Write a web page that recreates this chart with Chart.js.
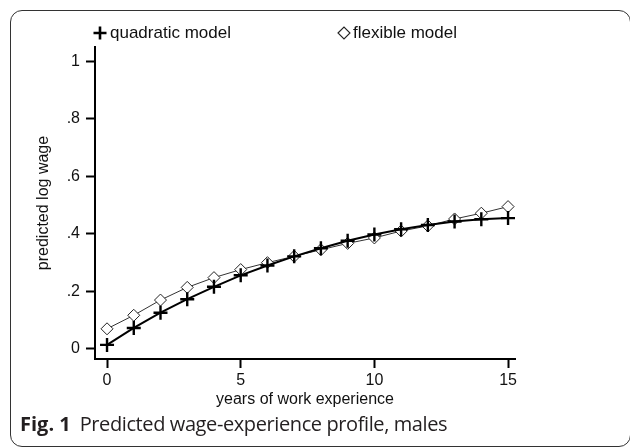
<!DOCTYPE html>
<html>
<head>
<meta charset="utf-8">
<script src="https://cdn.jsdelivr.net/npm/chart.js@4.4.1/dist/chart.umd.min.js"></script>
<style>
  html, body { margin: 0; padding: 0; background: #fff; }
  #wrap { position: relative; width: 630px; height: 448px; overflow: hidden; background: #fff; }
  #frame { position: absolute; left: 10px; top: 10px; width: 621px; height: 437px;
           border: 1.5px solid #333; border-radius: 12px; box-sizing: border-box; }
  #chart { position: absolute; left: 0; top: 0; }
  #caption { position: absolute; left: 20px; top: 410px; font-family: 'Open Sans', 'Noto Sans', sans-serif;
             font-size: 20px; color: #231f20; white-space: nowrap; letter-spacing: -0.4px; }
  #caption b { font-weight: 700; margin-right: 9px; letter-spacing: 0; }
</style>
</head>
<body>
<div id="wrap">
  <div id="frame"></div>
  <canvas id="chart" width="630" height="448"></canvas>
  <div id="caption"><b>Fig. 1</b>Predicted wage-experience profile, males</div>
</div>
<script>
// ---- data ----
const years = [0, 1, 2, 3, 4, 5, 6, 7, 8, 9, 10, 11, 12, 13, 14, 15];
const quadratic = [0.014, 0.073, 0.126, 0.173, 0.216, 0.256, 0.290, 0.322, 0.350, 0.376, 0.398, 0.416, 0.431, 0.443, 0.451, 0.455];
const flexible  = [0.070, 0.117, 0.170, 0.214, 0.248, 0.276, 0.300, 0.322, 0.345, 0.367, 0.386, 0.410, 0.428, 0.452, 0.472, 0.495];
const seriesLabels = ['quadratic model', 'flexible model'];
const xTickValues = [0, 5, 10, 15];
const yTickValues = [0, 0.2, 0.4, 0.6, 0.8, 1];
const yTickLabels = ['0', '.2', '.4', '.6', '.8', '1'];
const xTitle = 'years of work experience';
const yTitle = 'predicted log wage';

Chart.defaults.font.family = "'Liberation Sans', Arial, sans-serif";
Chart.defaults.color = '#111';

// Stata-style legend laid out in two columns above the plot
const stataLegend = {
  id: 'stataLegend',
  afterDraw(chart, args, opts) {
    const ctx = chart.ctx;
    const area = chart.chartArea;
    ctx.save();
    ctx.font = opts.font;
    ctx.textBaseline = 'middle';
    ctx.textAlign = 'left';
    chart.data.datasets.forEach((ds, i) => {
      const cx = area.left + opts.offsets[i];
      const cy = opts.y;
      ctx.strokeStyle = ds.pointBorderColor;
      ctx.fillStyle = ds.pointBackgroundColor;
      ctx.lineWidth = opts.markerWidths[i];
      Chart.helpers.drawPoint(ctx, {
        pointStyle: ds.pointStyle,
        radius: opts.markerRadius[i],
        rotation: 0,
        borderWidth: opts.markerWidths[i]
      }, cx, cy);
      ctx.fillStyle = '#111';
      ctx.fillText(ds.label, cx + opts.gap[i], cy);
    });
    ctx.restore();
  }
};

const toPoints = (ys) => years.map((x, i) => ({ x: x, y: ys[i] }));

new Chart(document.getElementById('chart'), {
  type: 'line',
  data: {
    datasets: [
      {
        label: seriesLabels[0],
        data: toPoints(quadratic),
        borderColor: '#000',
        borderWidth: 2,
        pointStyle: 'cross',
        pointRadius: 7,
        pointBorderWidth: 2.4,
        pointBorderColor: '#000',
        pointBackgroundColor: '#000',
        tension: 0,
        fill: false
      },
      {
        label: seriesLabels[1],
        data: toPoints(flexible),
        borderColor: '#333',
        borderWidth: 1,
        pointStyle: 'rectRot',
        pointRadius: 6,
        pointBorderWidth: 1,
        pointBorderColor: '#222',
        pointBackgroundColor: '#fff',
        tension: 0,
        fill: false
      }
    ]
  },
  options: {
    responsive: false,
    animation: false,
    devicePixelRatio: 1,
    layout: { padding: { left: 12, top: 47, right: 115, bottom: 39 } },
    plugins: {
      legend: { display: false },
      tooltip: { enabled: false },
      stataLegend: {
        font: "17px 'Liberation Sans', Arial, sans-serif",
        offsets: [5, 249],
        gap: [10, 9],
        y: 33,
        markerRadius: [6.5, 6],
        markerWidths: [2.6, 1.1]
      }
    },
    scales: {
      x: {
        type: 'linear',
        position: 'bottom',
        min: -0.45,
        max: 15.26,
        afterBuildTicks: (s) => { s.ticks = xTickValues.map(v => ({ value: v })); },
        afterFit: (s) => { s.height = 50; },
        ticks: { font: { size: 16 }, color: '#111', padding: 3, maxRotation: 0, autoSkip: false },
        grid: { display: true, drawOnChartArea: false, drawTicks: true, tickLength: 9, tickWidth: 2, tickColor: '#000' },
        border: { display: true, color: '#000', width: 2 },
        title: { display: true, text: xTitle, font: { size: 16 }, color: '#111', padding: { top: 0, bottom: 0 } }
      },
      y: {
        type: 'linear',
        position: 'left',
        min: -0.035,
        max: 1.05,
        afterBuildTicks: (s) => { s.ticks = yTickValues.map(v => ({ value: v })); },
        afterFit: (s) => { s.width = 83; },
        ticks: {
          font: { size: 16 }, color: '#111', padding: 6, autoSkip: false,
          callback: (v, i) => yTickLabels[i]
        },
        grid: { display: true, drawOnChartArea: false, drawTicks: true, tickLength: 9, tickWidth: 2, tickColor: '#000' },
        border: { display: true, color: '#000', width: 2 },
        title: { display: true, text: yTitle, font: { size: 16 }, color: '#111', padding: { top: 22, bottom: 0 } }
      }
    }
  },
  plugins: [stataLegend]
});
</script>
</body>
</html>
